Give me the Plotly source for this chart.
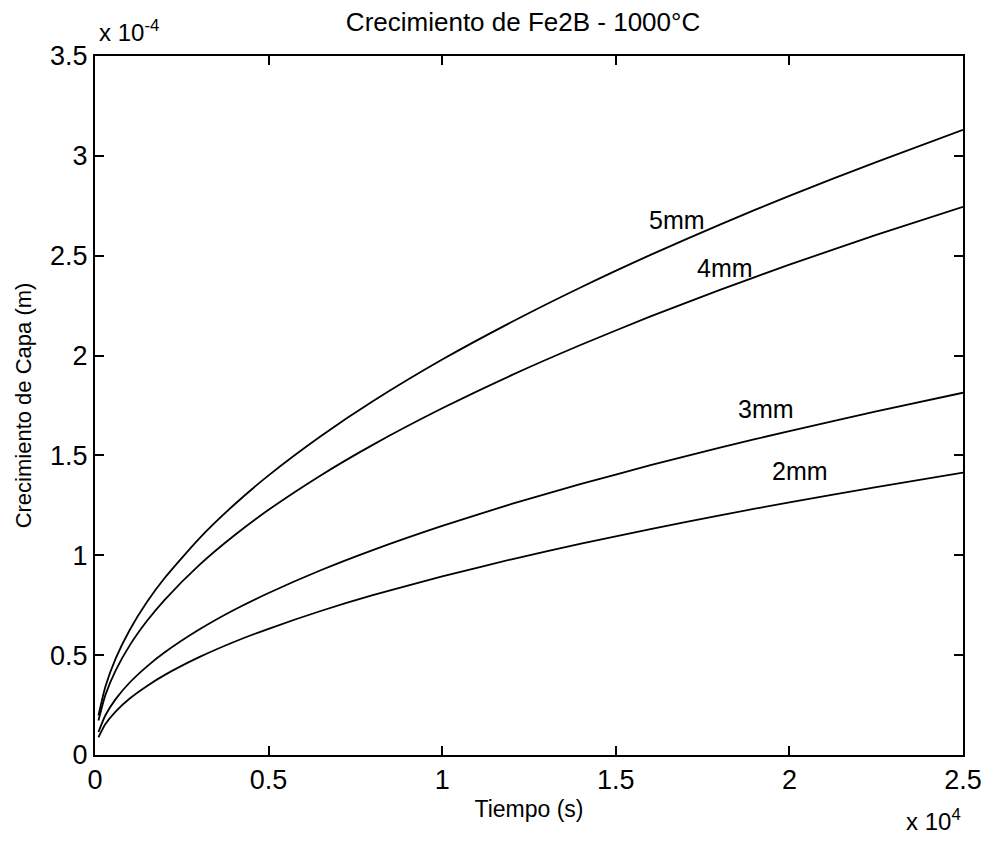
import plotly.graph_objects as go

# Time samples (s)
tiempo = [100, 300, 600, 1000, 1500, 2000, 3000, 4000, 5000, 6500, 8000,
          10000, 12000, 14000, 16000, 18000, 20000, 22500, 25000]

# Layer growth, in units of 1e-4 m, for each sample thickness
capa_5mm = [0.198, 0.343, 0.485, 0.626, 0.767, 0.885, 1.084, 1.252, 1.400, 1.596,
            1.771, 1.980, 2.168, 2.342, 2.504, 2.656, 2.800, 2.969, 3.130]
capa_4mm = [0.173, 0.301, 0.425, 0.549, 0.672, 0.776, 0.951, 1.098, 1.228, 1.400,
            1.553, 1.736, 1.902, 2.054, 2.196, 2.329, 2.455, 2.604, 2.745]
capa_3mm = [0.115, 0.199, 0.281, 0.363, 0.444, 0.513, 0.628, 0.726, 0.811, 0.925,
            1.026, 1.147, 1.257, 1.357, 1.451, 1.539, 1.622, 1.721, 1.814]
capa_2mm = [0.089, 0.155, 0.219, 0.283, 0.346, 0.400, 0.490, 0.566, 0.632, 0.721,
            0.800, 0.894, 0.980, 1.058, 1.131, 1.200, 1.265, 1.341, 1.414]

series = [("5mm", capa_5mm), ("4mm", capa_4mm), ("3mm", capa_3mm), ("2mm", capa_2mm)]

# Curve labels placed next to each curve
etiquetas = ["5mm", "4mm", "3mm", "2mm"]
etiqueta_x = [16760, 18150, 19330, 20300]
etiqueta_y = [2.68, 2.44, 1.73, 1.42]

x_ticks = [0, 5000, 10000, 15000, 20000, 25000]
x_ticktext = ["0", "0.5", "1", "1.5", "2", "2.5"]
y_ticks = [0, 0.5, 1, 1.5, 2, 2.5, 3, 3.5]
y_ticktext = ["0", "0.5", "1", "1.5", "2", "2.5", "3", "3.5"]

FONT = "Liberation Sans, Arial, sans-serif"

fig = go.Figure()
for name, vals in series:
    fig.add_trace(go.Scatter(
        x=tiempo, y=vals, mode="lines", name=name,
        line=dict(color="black", width=1.8, shape="spline", smoothing=0.6),
        showlegend=False,
    ))

for txt, lx, ly in zip(etiquetas, etiqueta_x, etiqueta_y):
    fig.add_annotation(x=lx, y=ly, text=txt, showarrow=False,
                       font=dict(family=FONT, size=25, color="black"),
                       xanchor="center", yanchor="middle")

# Scale factors for the axes
fig.add_annotation(xref="paper", yref="paper", x=0.002, y=1, yshift=8,
                   text="x 10<sup>-4</sup>", showarrow=False,
                   xanchor="left", yanchor="bottom",
                   font=dict(family=FONT, size=24, color="black"))
fig.add_annotation(xref="paper", yref="paper", x=1, y=0, yshift=-48,
                   text="x 10<sup>4</sup>", showarrow=False,
                   xanchor="right", yanchor="top",
                   font=dict(family=FONT, size=24, color="black"))

axis_common = dict(
    showline=True, linecolor="black", linewidth=2, mirror="ticks",
    ticks="inside", ticklen=9, tickwidth=2, tickcolor="black",
    showgrid=False, zeroline=False, automargin=False,
    tickfont=dict(family=FONT, size=27, color="black"),
)

fig.update_xaxes(range=[0, 25000], tickvals=x_ticks, ticktext=x_ticktext,
                 title=dict(text="Tiempo (s)", font=dict(family=FONT, size=23, color="black"),
                            standoff=6),
                 **axis_common)
fig.update_yaxes(range=[0, 3.5], tickvals=y_ticks, ticktext=y_ticktext,
                 title=dict(text="Crecimiento de Capa (m)",
                            font=dict(family=FONT, size=22, color="black"), standoff=12),
                 **axis_common)

fig.update_layout(
    width=985, height=841,
    margin=dict(l=95, r=22, t=56, b=86),
    paper_bgcolor="white", plot_bgcolor="white",
    title=dict(text="Crecimiento de Fe2B - 1000°C", x=0.531, xanchor="center",
               y=0.974, yanchor="middle",
               font=dict(family=FONT, size=26, color="black")),
)

fig.write_html("out.html")
